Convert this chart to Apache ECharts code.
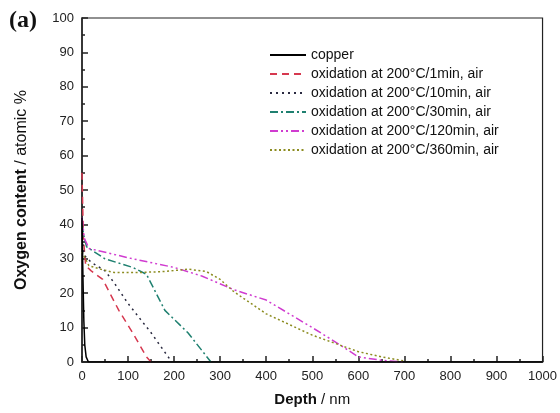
<!DOCTYPE html>
<html>
<head>
<meta charset="utf-8">
<script src="https://cdn.jsdelivr.net/npm/echarts@6/dist/echarts.min.js"></script>
<style>html,body{margin:0;padding:0;background:#fff}#c{width:560px;height:413px}</style>
</head>
<body>
<div id="c"></div>
<script>
// Depth (nm) / oxygen content (atomic %) pairs
const seriesNames = ['copper','oxidation at 200°C/1min, air','oxidation at 200°C/10min, air','oxidation at 200°C/30min, air','oxidation at 200°C/120min, air','oxidation at 200°C/360min, air'];
const copper = [[0,42],[2,25],[4,12],[6,5],[9,1.5],[14,0],[1000,0]];
const ox1min = [[0,55],[3,36],[8,28],[20,26.5],[45,24],[80,15],[110,8.5],[140,1.5],[150,0]];
const ox10min = [[0,36],[5,31],[20,29],[50,26.5],[70,23],[100,17],[150,8.5],[195,0]];
const ox30min = [[0,40],[5,36],[10,33.5],[50,30],[110,27.5],[140,25.5],[180,15],[230,8.5],[280,0]];
const ox120min = [[0,42],[5,36],[15,33],[110,30],[200,27.5],[260,25],[330,21],[400,18],[500,10],[560,5],[600,1.5],[650,0.5],[700,0]];
const ox360min = [[0,32],[15,28],[40,27],[70,26],[120,26],[180,26.3],[230,27],[270,26.3],[300,24],[330,20.4],[400,14],[500,7.8],[600,3],[650,1.5],[700,0.3]];
const xTicks = [0,100,200,300,400,500,600,700,800,900,1000];
const yTicks = [0,10,20,30,40,50,60,70,80,90,100];

const dataList = [copper, ox1min, ox10min, ox30min, ox120min, ox360min];
const colors = ['#000000','#d6384f','#2a2a40','#1f8070','#d03cd0','#8c8c20'];
const dashes = ['solid',[7,5],[2,4],[8,3,2,3],[8,3,2,3,2,3],[2,2.5]];

const chart = echarts.init(document.getElementById('c'), null, {renderer:'canvas'});
const series = dataList.map((d,i)=>({
  name: seriesNames[i], type:'line', data:d, symbol:'none', showSymbol:false, smooth:false,
  lineStyle:{color:colors[i], width:1.5, type:dashes[i]},
  itemStyle:{color:colors[i]}, z: 3 + (i===0?6:i)
}));
chart.setOption({
  animation:false,
  backgroundColor:'#fff',
  title:{text:'(a)', left:4, top:4, textStyle:{fontFamily:'Liberation Serif', fontWeight:'bold', fontSize:24, color:'#111'}},
  grid:{left:82, top:18, right:15, bottom:51, show:true, borderColor:'#222', borderWidth:1.2},
  legend:{
    orient:'vertical', left:264, top:43, itemWidth:36, itemHeight:12, itemGap:5,
    data: seriesNames,
    itemStyle:{color:'rgba(0,0,0,0)', borderWidth:0, opacity:0},
    textStyle:{fontFamily:'Liberation Sans', fontSize:14, color:'#111'}
  },
  xAxis:{
    type:'value', min:xTicks[0], max:xTicks[xTicks.length-1], interval:100,
    name:'{b|Depth} / nm', nameLocation:'middle', nameGap:30,
    nameTextStyle:{fontFamily:'Liberation Sans', fontSize:15, color:'#111', rich:{b:{fontWeight:'bold', fontSize:15, fontFamily:'Liberation Sans', color:'#111'}}},
    axisLine:{show:true, onZero:false, lineStyle:{color:'#222', width:1.5}},
    axisTick:{show:true, inside:true, length:6, lineStyle:{color:'#222', width:1.5}},
    minorTick:{show:true, splitNumber:2, length:3, lineStyle:{color:'#222', width:1.5}},
    axisLabel:{fontFamily:'Liberation Sans', fontSize:13, color:'#222', margin:8, formatter:(v)=>String(v)},
    splitLine:{show:false}
  },
  yAxis:{
    type:'value', min:yTicks[0], max:yTicks[yTicks.length-1], interval:10,
    name:'{b|Oxygen content} / atomic %', nameLocation:'middle', nameGap:52, nameRotate:90,
    nameTextStyle:{fontFamily:'Liberation Sans', fontSize:16, color:'#111', rich:{b:{fontWeight:'bold', fontSize:16, fontFamily:'Liberation Sans', color:'#111'}}},
    axisLine:{show:true, onZero:false, lineStyle:{color:'#222', width:1.5}},
    axisTick:{show:true, inside:true, length:6, lineStyle:{color:'#222', width:1.5}},
    minorTick:{show:true, splitNumber:2, length:3, lineStyle:{color:'#222', width:1.5}},
    axisLabel:{fontFamily:'Liberation Sans', fontSize:13, color:'#222', margin:8, formatter:(v)=>String(v)},
    splitLine:{show:false}
  },
  series: series
});
</script>
</body>
</html>
